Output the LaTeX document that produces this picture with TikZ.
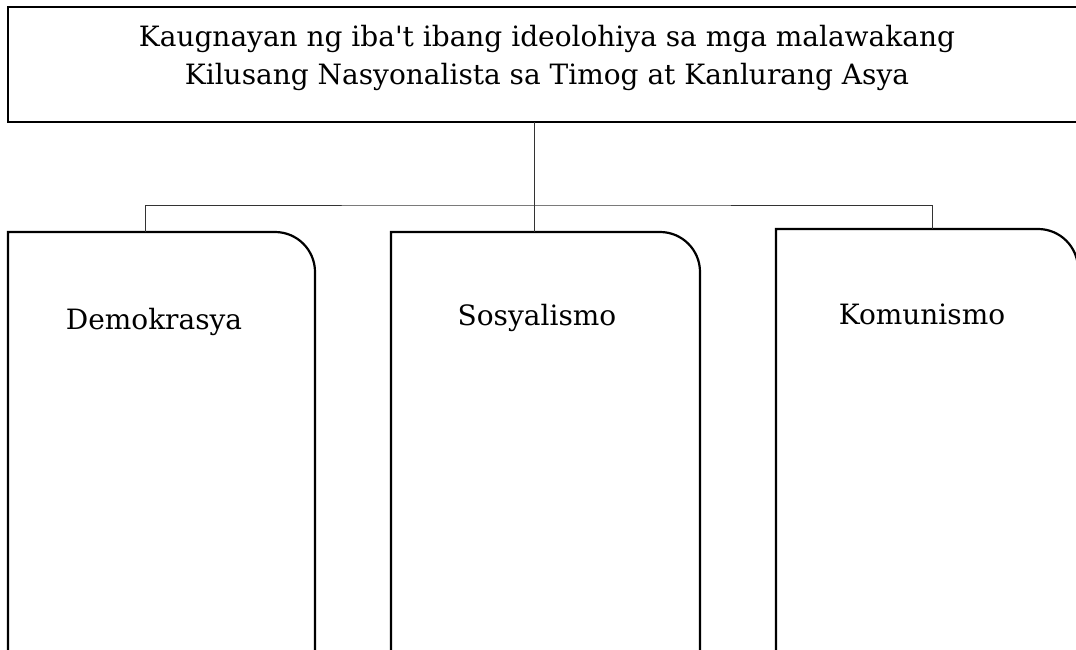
\documentclass[tikz,border=0pt]{standalone}
\usepackage{fontspec}
\setmainfont{DejaVu Serif}
\usetikzlibrary{calc}

\tikzset{
  frame/.style={line width=2.2pt},
  link/.style={line width=0.9pt, black!80},
  heading/.style={align=center, font=\fontsize{28}{38}\selectfont, inner sep=0pt},
  colname/.style={font=\fontsize{28}{32}\selectfont, inner sep=0pt}
}

\begin{document}
\begin{tikzpicture}[x=1pt, y=-1pt]

    \useasboundingbox (0,0) rectangle (1076,650);
    \clip (0,0) rectangle (1076,650);

    % title box
    \draw [frame] (8,7) rectangle (1085,122);
    \node[heading] (title) at (547,58) {Kaugnayan ng iba\textquotesingle t ibang ideolohiya sa mga malawakang\\Kilusang Nasyonalista sa Timog at Kanlurang Asya};
    \coordinate (titlebot) at (534,122);

    % the three columns
    \draw [frame] (8,660) |- (200,232) [rounded corners=40pt] -| (315,660);
    \draw [frame] (391,660) |- (500,232) [rounded corners=40pt] -| (700,660);
    \draw [frame] (776,660) |- (900,229) [rounded corners=40pt] -| (1078,660);

    \node[colname] (demo) at (154,322) {Demokrasya};
    \node[colname] (sosy) at (537,318) {Sosyalismo};
    \node[colname] (komu) at (922,314) {Komunismo};

    \coordinate (demotop) at (145,232);
    \coordinate (sosytop) at (534,232);
    \coordinate (komutop) at (932,229);
    \coordinate (bus) at (534,205);

    % connectors
    \draw [link] (titlebot) -- (sosytop);
    \draw [link] (demotop) |- (bus) -| (komutop);

\end{tikzpicture}
\end{document}
